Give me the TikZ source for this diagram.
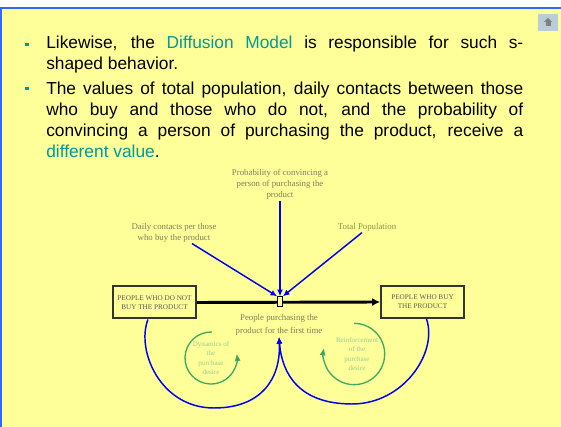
\documentclass[tikz,border=0pt]{standalone}
\usepackage{fontspec}
\setmainfont{Liberation Serif}
\newfontfamily\slidefont{Liberation Sans}
\usetikzlibrary{arrows.meta}
\definecolor{slideyellow}{RGB}{255,255,153}
\definecolor{frameblue}{RGB}{51,102,255}
\definecolor{accent}{RGB}{0,153,153}
\definecolor{labelgray}{RGB}{125,125,95}
\definecolor{popgreen}{RGB}{130,150,80}
\definecolor{loopgreen}{RGB}{60,170,100}
\definecolor{looptext}{RGB}{150,205,150}
\definecolor{linkblue}{RGB}{0,0,240}
\definecolor{btnblue}{RGB}{185,205,215}
\newcommand{\hl}[1]{\textcolor{accent}{#1}}
\newcommand{\fullline}[1]{\makebox[357.75pt][s]{#1}}
\begin{document}
\begin{tikzpicture}[x=0.75pt,y=-0.75pt,
  txt/.style={anchor=base west,inner sep=0pt,font=\slidefont\fontsize{13}{16}\selectfont},
  stock/.style={draw=black!80,line width=1.5pt,fill=slideyellow,minimum width=62pt,minimum height=24pt,inner sep=1pt,align=center,text=black!65,font=\fontsize{5.4}{6.8}\selectfont},
  lbl/.style={align=center,inner sep=1pt,text=labelgray,font=\fontsize{6.6}{8.2}\selectfont},
  looplbl/.style={align=center,inner sep=0pt,text=looptext,font=\fontsize{5.3}{7}\selectfont},
  link/.style={linkblue,line width=1.1pt,-{Latex[length=5pt,width=4.5pt]}},
  flow/.style={black,line width=2.2pt,-{Latex[length=6pt,width=6pt]}},
  loop/.style={loopgreen,line width=1pt,-{Triangle[length=5pt,width=4pt,fill=loopgreen!80!black]}}]
\useasboundingbox (0,0) rectangle (561,427);
% slide
\fill[white] (0,0) rectangle (561,7);
\fill[slideyellow] (0,7) rectangle (561,427);
\draw[frameblue,line width=2.2pt] (0,8) -- (561,8);
\draw[frameblue,line width=2.2pt] (1,8) -- (1,427);
\fill[btnblue] (538,14) rectangle (558,31);
\fill[gray] (544,22) -- (548,18) -- (552,22) -- cycle;
\fill[gray] (545.5,22) rectangle (550.5,26);
% bullets
\fill[accent] (25,43) rectangle (28.5,46.5);
\fill[accent] (25,87) rectangle (28.5,90.5);
\node[txt] (l1) at (46,49) {\fullline{Likewise, the \hl{Diffusion Model} is responsible for such s-}};
\node[txt] (l2) at (46,70) {shaped behavior.};
\node[txt] (l3) at (46,94.5) {\fullline{The values of total population, daily contacts between those}};
\node[txt] (l4) at (46,115.5) {\fullline{who buy and those who do not, and the probability of}};
\node[txt] (l5) at (46,136.5) {\fullline{convincing a person of purchasing the product, receive a}};
\node[txt] (l6) at (46,157.5) {\hl{different value}.};
% stocks and flow
\node[stock] (nobuy) at (154.5,302.5) {PEOPLE WHO DO NOT\\BUY THE PRODUCT};
\node[stock] (buy) at (422.5,302) {PEOPLE WHO BUY\\THE PRODUCT};
\draw[flow] (nobuy.east) -- (buy.west);
\node[draw=black,line width=0.8pt,fill=slideyellow,minimum width=3.5pt,minimum height=7pt,inner sep=0pt] (valve) at (280,301.5) {};
\node[lbl,font=\fontsize{6.6}{9.6}\selectfont] (flowlbl) at (279,325) {People purchasing the\\product for the first time};
% auxiliaries
\node[lbl] (prob) at (280,184) {Probability of convincing a\\person of purchasing the\\product};
\node[lbl] (contacts) at (174,232.5) {Daily contacts per those\\who buy the product};
\node[lbl,text=popgreen] (total) at (367,227) {Total Population};
\draw[link] (prob.south) -- (valve.north);
\draw[link] ([xshift=13.5pt]contacts.south) -- (valve.north west);
\draw[link] ([xshift=-3.75pt]total.south) -- (valve.north east);
\draw[link] ([xshift=-4.9pt]nobuy.south) .. controls (136,350) and (160,408) .. (214,408)
  .. controls (262,408) and (281,378) .. (flowlbl.south);
\draw[link] ([xshift=3pt]buy.south) .. controls (438,352) and (404,404) .. (352,404)
  .. controls (300,404) and (282,375) .. (flowlbl.south);
% loops
\node[looplbl] (dyn) at (211,358) {Dynamics of\\the\\purchase\\desire};
\node[looplbl] (reinf) at (357,354) {Reinforcement\\of the\\purchase\\desire};
\draw[loop] ([shift={(88:19.5pt)}]dyn.center) arc[start angle=88,end angle=368,radius=19.5pt];
\draw[loop] ([shift={(90:23pt)}]354,354) arc[start angle=90,end angle=-190,radius=23pt];
\end{tikzpicture}
\end{document}
